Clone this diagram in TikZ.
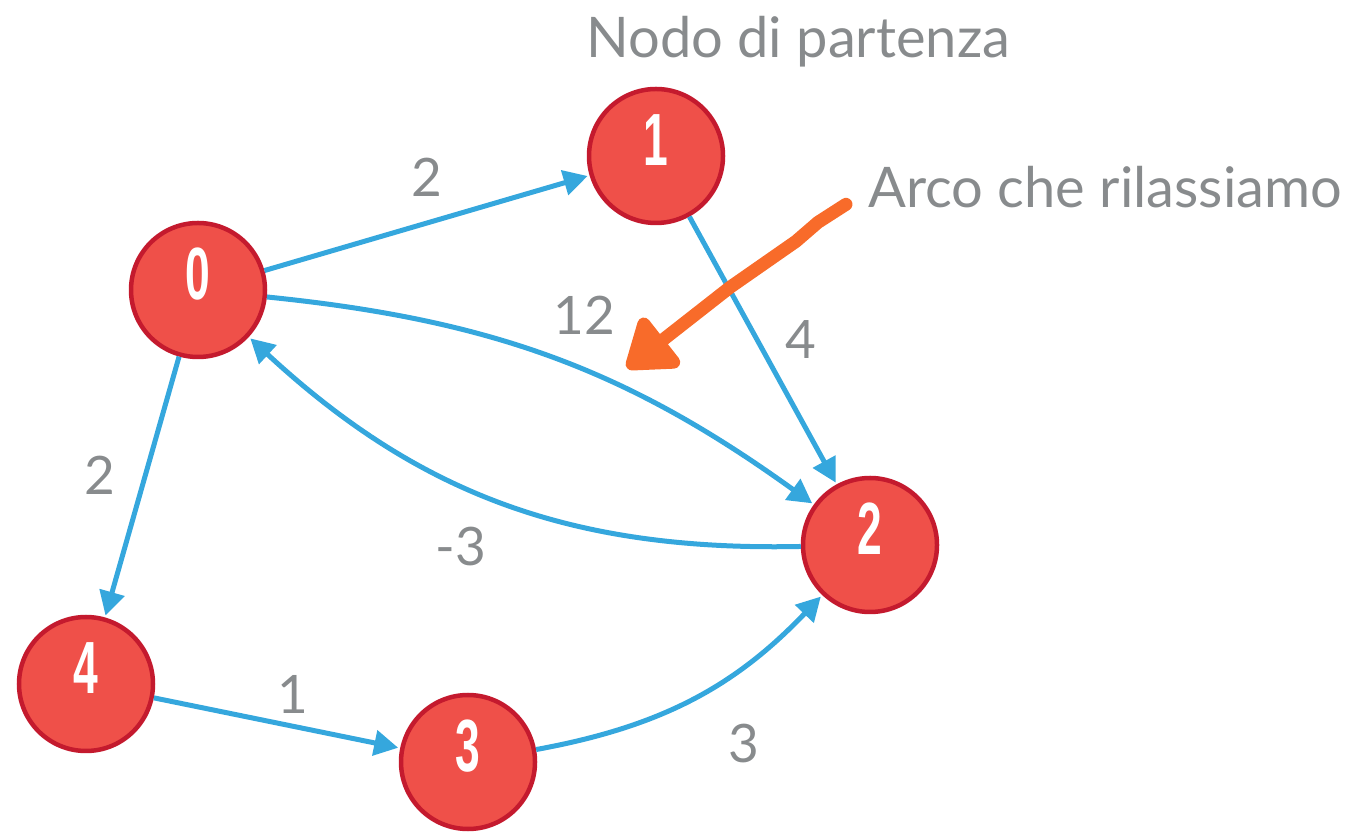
\documentclass[tikz,border=0pt]{standalone}
\usepackage{fontspec}
\setmainfont{Lato}
\newfontfamily\digitfont{Liberation Sans}
\usepackage{graphicx}
\usetikzlibrary{arrows.meta,positioning}
\definecolor{nodered}{RGB}{239,80,73}
\definecolor{darkred}{RGB}{196,26,46}
\definecolor{edgeblue}{RGB}{53,167,221}
\definecolor{textgray}{RGB}{136,139,141}
\definecolor{markorange}{RGB}{248,107,42}
\newcommand{\vnum}[1]{\scalebox{0.6}[1]{\digitfont\bfseries #1}}
\tikzstyle{vertex} = [circle, draw=darkred, line width=4.5pt, fill=nodered, text=white, minimum size=134pt, inner sep=0pt, text height=53pt, text depth=34pt, font=\fontsize{74}{74}\selectfont]
\tikzstyle{wlabel} = [draw=none, fill=none, text=textgray, font=\fontsize{53}{53}\selectfont]
\tikzstyle{note} = [draw=none, fill=none, text=textgray, font=\fontsize{56}{56}\selectfont]
\tikzstyle{tedge} = [draw=edgeblue, line width=5pt, -{Triangle[length=24pt, width=25pt]}, shorten >=2pt]
\tikzstyle{marker} = [draw=markorange, line width=13pt, line cap=round, line join=round, -{Triangle[length=52pt, width=70pt, round]}]

\begin{document}
\begin{tikzpicture}[x=1pt, y=1pt]
\useasboundingbox (0,0) rectangle (1351,840);

% vertices =============================
\node[vertex] (n0) at (198,550) {\vnum{0}};
\node[vertex, on grid, above right=134pt and 458pt of n0] (n1) {\vnum{1}};
\node[vertex, on grid, below right=255pt and 672pt of n0] (n2) {\vnum{2}};
\node[vertex, on grid, below left=394pt and 112pt of n0] (n4) {\vnum{4}};
\node[vertex, on grid, below right=78pt and 382pt of n4] (n3) {\vnum{3}};

% notes
\node[note, above right=36pt and -122pt of n1] (start) {Nodo di partenza};
\node[note, below right=-42pt and 160pt of n1] (relax) {Arco che rilassiamo};

% straight edges
\draw[tedge] (n0) -- node[wlabel, above=21pt] {2} (n1);
\draw[tedge] (n1) -- node[wlabel, above right=-14pt and 17pt] {4} (n2);
\draw[tedge] (n0) -- node[wlabel, above left=-13pt and 21pt] {2} (n4);
\draw[tedge] (n4) -- node[wlabel, above right=4pt and -5pt] {1} (n3);

% bent edges
\draw[tedge] (n0) to[bend left=15] node[wlabel, above right=19pt and -8pt] {12} (n2);
\draw[tedge] (n2) to[bend left=22] node[wlabel, below left=19pt and 10pt] {-3} (n0);
\draw[tedge] (n3) to[bend right=18] node[wlabel, below right=20pt and 30pt] {3} (n2);

% relaxed edge marker
\coordinate (atail) at ([shift={(-19pt,-17pt)}]relax.west);
\coordinate (ahead) at (627,472);
\draw[marker] (atail) -- ++(-28,-18) -- ++(-22,-19) -- ++(-66,-46) -- (ahead);

\end{tikzpicture}
\end{document}
